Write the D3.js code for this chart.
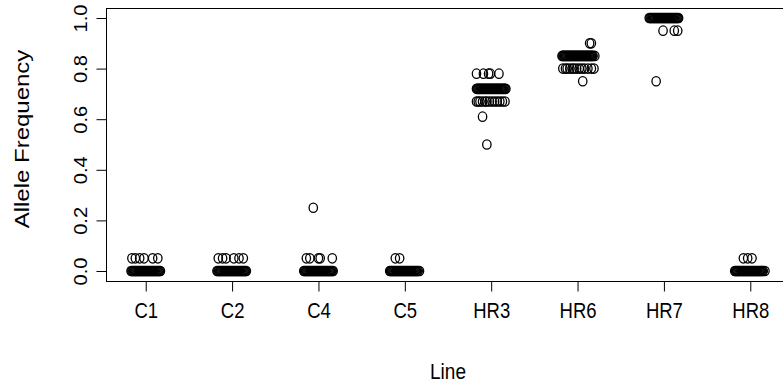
<!DOCTYPE html>
<html>
<head>
<meta charset="utf-8">
<script src="https://cdn.jsdelivr.net/npm/d3@7/dist/d3.min.js"></script>
<style>
body { margin: 0; background: #fff; }
text { font-family: "Liberation Sans", Arial, sans-serif; fill: #000; }
</style>
</head>
<body>
<div id="chart"></div>
<script>
// groups on the x axis and y ticks
var lines = ["C1", "C2", "C4", "C5", "HR3", "HR6", "HR7", "HR8"];
var yTicks = [0, 0.2, 0.4, 0.6, 0.8, 1.0];

// allele frequencies per line, with the stripchart jitter (in group units)
var c1Freq = [0,0,0,0,0,0,0,0,0,0, 0,0,0,0,0,0,0,0,0,0, 0,0,0,0,0,0,0,0,0,0, 0,0,0,0,0,
              0.05,0.05,0.05,0.05,0.05,0.05];
var c1Jitter = [-0.17,-0.16,-0.15,-0.14,-0.13,-0.12,-0.11,-0.10,-0.09,-0.08,
                -0.07,-0.06,-0.05,-0.04,-0.03,-0.02,-0.01,0.00,0.01,0.02,
                0.03,0.04,0.05,0.06,0.07,0.08,0.09,0.10,0.11,0.12,
                0.13,0.14,0.15,0.16,0.17,
                -0.16,-0.12,-0.07,-0.02,0.08,0.14];

var c2Freq = [0,0,0,0,0,0,0,0,0,0, 0,0,0,0,0,0,0,0,0,0, 0,0,0,0,0,0,0,0,0,0, 0,0,0,0,0,
              0.05,0.05,0.05,0.05,0.05,0.05];
var c2Jitter = [-0.175,-0.165,-0.155,-0.145,-0.135,-0.125,-0.115,-0.105,-0.095,-0.085,
                -0.075,-0.065,-0.055,-0.045,-0.035,-0.025,-0.015,-0.005,0.005,0.015,
                0.025,0.035,0.045,0.055,0.065,0.075,0.085,0.095,0.105,0.115,
                0.125,0.135,0.145,0.155,0.165,
                -0.16,-0.11,-0.07,0.02,0.08,0.13];

var c4Freq = [0,0,0,0,0,0,0,0,0,0, 0,0,0,0,0,0,0,0,0,0, 0,0,0,0,0,0,0,0,0,0, 0,0,0,0,0,
              0.05,0.05,0.05,0.05,0.05, 0.25];
var c4Jitter = [-0.17,-0.16,-0.15,-0.14,-0.13,-0.12,-0.11,-0.10,-0.09,-0.08,
                -0.07,-0.06,-0.05,-0.04,-0.03,-0.02,-0.01,0.00,0.01,0.02,
                0.03,0.04,0.05,0.06,0.07,0.08,0.09,0.10,0.11,0.12,
                0.13,0.14,0.15,0.16,0.17,
                -0.14,-0.10,0.00,0.02,0.16, -0.06];

var c5Freq = [0,0,0,0,0,0,0,0,0,0, 0,0,0,0,0,0,0,0,0,0, 0,0,0,0,0,0,0,0,0,0, 0,0,0,0,0,
              0.05,0.05];
var c5Jitter = [-0.175,-0.165,-0.155,-0.145,-0.135,-0.125,-0.115,-0.105,-0.095,-0.085,
                -0.075,-0.065,-0.055,-0.045,-0.035,-0.025,-0.015,-0.005,0.005,0.015,
                0.025,0.035,0.045,0.055,0.065,0.075,0.085,0.095,0.105,0.115,
                0.125,0.135,0.145,0.155,0.17,
                -0.11,-0.06];

var hr3Freq = [0.50, 0.61,
               0.67,0.67,0.67,0.67,0.67,0.67,0.67,0.67,0.67,0.67,0.67,0.67,0.67,
               0.72,0.72,0.72,0.72,0.72,0.72,0.72,0.72,0.72,0.72,
               0.72,0.72,0.72,0.72,0.72,0.72,0.72,0.72,0.72,0.72,
               0.72,0.72,0.72,0.72,0.72,0.72,0.72,0.72,0.72,0.72,
               0.72,0.72,0.72,0.72,0.72,
               0.78,0.78,0.78,0.78,0.78];
var hr3Jitter = [-0.05, -0.10,
                 -0.17,-0.15,-0.13,-0.10,-0.07,-0.05,-0.02,0.01,0.04,0.07,0.10,0.13,0.16,
                 -0.17,-0.16,-0.15,-0.14,-0.13,-0.12,-0.11,-0.10,-0.09,-0.08,
                 -0.07,-0.06,-0.05,-0.04,-0.03,-0.02,-0.01,0.00,0.01,0.02,
                 0.03,0.04,0.05,0.06,0.07,0.08,0.09,0.10,0.11,0.12,
                 0.13,0.14,0.15,0.16,0.17,
                 -0.17,-0.09,-0.03,-0.01,0.09];

var hr6Freq = [0.75,
               0.80,0.80,0.80,0.80,0.80,0.80,0.80,0.80,0.80,0.80,0.80,0.80,0.80,
               0.85,0.85,0.85,0.85,0.85,0.85,0.85,0.85,0.85,0.85,
               0.85,0.85,0.85,0.85,0.85,0.85,0.85,0.85,0.85,0.85,
               0.85,0.85,0.85,0.85,0.85,0.85,0.85,0.85,0.85,0.85,
               0.85,0.85,0.85,0.85,0.85,0.85,0.85,0.85,
               0.90,0.90];
var hr6Jitter = [0.06,
                 -0.17,-0.14,-0.12,-0.09,-0.06,-0.04,-0.01,0.02,0.05,0.08,0.12,0.16,0.19,
                 -0.18,-0.17,-0.16,-0.15,-0.14,-0.13,-0.12,-0.11,-0.10,-0.09,
                 -0.08,-0.07,-0.06,-0.05,-0.04,-0.03,-0.02,-0.01,0.00,0.01,
                 0.02,0.03,0.04,0.05,0.06,0.07,0.08,0.09,0.10,0.11,
                 0.12,0.13,0.14,0.15,0.16,0.17,0.18,0.20,
                 0.14,0.16];

var hr7Freq = [0.75,
               0.95,0.95,0.95,
               1,1,1,1,1,1,1,1,1,1, 1,1,1,1,1,1,1,1,1,1, 1,1,1,1,1,1,1,1,1,1, 1,1,1,1,1];
var hr7Jitter = [-0.09,
                 -0.01,0.12,0.16,
                 -0.17,-0.16,-0.15,-0.14,-0.13,-0.12,-0.11,-0.10,-0.09,-0.08,
                 -0.07,-0.06,-0.05,-0.04,-0.03,-0.02,-0.01,0.00,0.01,0.02,
                 0.03,0.04,0.05,0.06,0.07,0.08,0.09,0.10,0.11,0.12,
                 0.13,0.14,0.15,0.16,0.17];

var hr8Freq = [0,0,0,0,0,0,0,0,0,0, 0,0,0,0,0,0,0,0,0,0, 0,0,0,0,0,0,0,0,0,0, 0,0,0,0,0,
               0.05,0.05,0.05];
var hr8Jitter = [-0.18,-0.17,-0.16,-0.15,-0.14,-0.13,-0.12,-0.11,-0.10,-0.09,
                 -0.08,-0.07,-0.06,-0.05,-0.04,-0.03,-0.02,-0.01,0.00,0.01,
                 0.02,0.03,0.04,0.05,0.06,0.07,0.08,0.09,0.10,0.11,
                 0.12,0.13,0.14,0.15,0.17,
                 -0.08,-0.03,0.02];

var freqs = [c1Freq, c2Freq, c4Freq, c5Freq, hr3Freq, hr6Freq, hr7Freq, hr8Freq];
var jitters = [c1Jitter, c2Jitter, c4Jitter, c5Jitter, hr3Jitter, hr6Jitter, hr7Jitter, hr8Jitter];

var points = [];
lines.forEach(function(name, i) {
    freqs[i].forEach(function(v, j) {
        points.push({ line: name, group: i + 1, value: v, jitter: jitters[i][j] });
    });
});

var W = 783, H = 389;
var box = { left: 106, right: 790, top: 8, bottom: 281 };

var svg = d3.select("#chart")
    .append("svg")
    .attr("width", W)
    .attr("height", H);

// R stripchart style limits
var x = d3.scaleLinear().domain([0.54, 8.46]).range([box.left, box.right]);
var y = d3.scaleLinear().domain([0, 1]).range([271, 18]);

// points (open circles, pch = 1)
svg.append("g")
    .selectAll("ellipse")
    .data(points)
    .enter()
    .append("ellipse")
    .attr("cx", function(d) { return x(d.group + d.jitter); })
    .attr("cy", function(d) { return y(d.value); })
    .attr("rx", 4.2)
    .attr("ry", 4.7)
    .attr("fill", "none")
    .attr("stroke", "#000")
    .attr("stroke-width", 1.3);

// frame
svg.append("rect")
    .attr("x", box.left + 0.5)
    .attr("y", box.top + 0.5)
    .attr("width", box.right - box.left)
    .attr("height", box.bottom - box.top)
    .attr("fill", "none")
    .attr("stroke", "#000")
    .attr("stroke-width", 1);

// x axis
var xAxis = svg.append("g")
    .attr("transform", "translate(0," + (box.bottom + 0.5) + ")")
    .call(d3.axisBottom(x)
        .tickValues(d3.range(1, lines.length + 1))
        .tickFormat(function(d) { return lines[d - 1]; })
        .tickSize(10)
        .tickSizeOuter(0));
xAxis.select(".domain").remove();
xAxis.selectAll("line").attr("stroke", "#000");
xAxis.selectAll("text")
    .attr("y", 0)
    .attr("dy", null)
    .attr("transform", "translate(0,36) scale(1,1.2)")
    .style("font-size", "18.5px")
    .attr("fill", "#000");

// y axis
var yAxis = svg.append("g")
    .attr("transform", "translate(" + (box.left + 0.5) + ",0)")
    .call(d3.axisLeft(y)
        .tickValues(yTicks)
        .tickFormat(d3.format(".1f"))
        .tickSize(10)
        .tickSizeOuter(0));
yAxis.select(".domain").remove();
yAxis.selectAll("line").attr("stroke", "#000");
yAxis.selectAll("text")
    .attr("x", 0)
    .attr("dy", null)
    .attr("text-anchor", "middle")
    .attr("transform", "translate(-20,0) rotate(-90) scale(1.15,1)")
    .style("font-size", "17.5px")
    .attr("fill", "#000");

// axis titles
svg.append("text")
    .attr("transform", "translate(" + ((box.left + box.right) / 2) + ",379) scale(1,1.2)")
    .attr("text-anchor", "middle")
    .style("font-size", "19px")
    .text("Line");

svg.append("text")
    .attr("transform", "translate(29,139) rotate(-90) scale(1.2,1)")
    .attr("text-anchor", "middle")
    .style("font-size", "20px")
    .text("Allele Frequency");
</script>
</body>
</html>
